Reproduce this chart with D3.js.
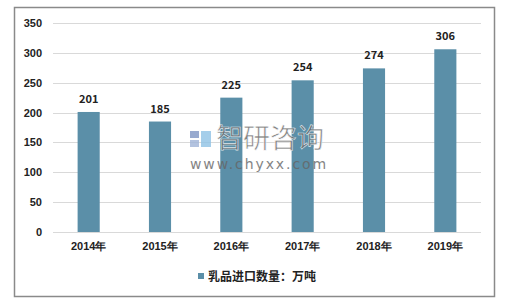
<!DOCTYPE html>
<html>
<head>
<meta charset="utf-8">
<script src="https://cdn.jsdelivr.net/npm/d3@7"></script>
<style>
  body { margin: 0; background: #fff; }
  svg { display: block; font-family: "Noto Sans CJK SC", "Noto Sans", sans-serif; }
</style>
</head>
<body>
<div id="chart-container"></div>
<script>
const years = ["2014年", "2015年", "2016年", "2017年", "2018年", "2019年"];
const imports = [201, 185, 225, 254, 274, 306];
const yTicks = [0, 50, 100, 150, 200, 250, 300, 350];
const seriesName = "乳品进口数量：万吨";

const width = 515;
const height = 304;
const barColor = "#5b8fa8";

const svg = d3.select("#chart-container")
    .append("svg")
    .attr("width", width)
    .attr("height", height);

// outer frame
svg.append("rect")
    .attr("x", 14.5)
    .attr("y", 7.5)
    .attr("width", 480)
    .attr("height", 289)
    .attr("fill", "#fff")
    .attr("stroke", "#8a8a8a")
    .attr("stroke-width", 1.5);

const x = d3.scaleBand()
    .domain(years)
    .range([53, 481])
    .paddingInner(0.69)
    .paddingOuter(0.345);

const y = d3.scaleLinear()
    .domain([0, 350])
    .range([232, 23]);

// gridlines
svg.append("g")
    .selectAll("line")
    .data(yTicks)
    .enter()
    .append("line")
    .attr("x1", 53)
    .attr("x2", 481)
    .attr("y1", d => Math.round(y(d)) + 0.5)
    .attr("y2", d => Math.round(y(d)) + 0.5)
    .attr("stroke", "#d9d9d9")
    .attr("stroke-width", 1);

// y axis labels
const yAxis = svg.append("g")
    .attr("transform", "translate(53,0)")
    .call(d3.axisLeft(y).tickValues(yTicks).tickSize(0).tickPadding(11));
yAxis.select(".domain").remove();
yAxis.selectAll("text")
    .style("font-size", "11px")
    .style("font-weight", "600")
    .attr("fill", "#222");

// bars
svg.append("g")
    .selectAll("rect")
    .data(imports)
    .enter()
    .append("rect")
    .attr("x", (d, i) => x(years[i]))
    .attr("y", d => y(d))
    .attr("width", x.bandwidth())
    .attr("height", d => y(0) - y(d))
    .attr("fill", barColor);

// value labels
svg.append("g")
    .selectAll("text")
    .data(imports)
    .enter()
    .append("text")
    .attr("x", (d, i) => x(years[i]) + x.bandwidth() / 2)
    .attr("y", d => y(d) - 9)
    .attr("text-anchor", "middle")
    .style("font-size", "11px")
    .style("font-weight", "600")
    .attr("fill", "#222")
    .text(d => d);

// x axis labels
const xAxis = svg.append("g")
    .attr("transform", "translate(0,232)")
    .call(d3.axisBottom(x).tickSize(0).tickPadding(10));
xAxis.select(".domain").remove();
xAxis.selectAll("text")
    .style("font-size", "11px")
    .style("font-weight", "600")
    .attr("fill", "#222");

// watermark
const wm = svg.append("g").attr("opacity", 0.8);
wm.append("rect").attr("x", 190).attr("y", 131).attr("width", 9).attr("height", 7).attr("fill", "#7f95c4");
wm.append("rect").attr("x", 190).attr("y", 140).attr("width", 9).attr("height", 7).attr("fill", "#9fb4d8");
wm.append("rect").attr("x", 201).attr("y", 131).attr("width", 10).attr("height", 16).attr("fill", "#8fc3e6");
wm.append("text")
    .attr("x", 216)
    .attr("y", 148)
    .style("font-size", "27px")
    .attr("fill", "#666")
    .attr("stroke", "#fff")
    .attr("stroke-width", 0.6)
    .text("智研咨询");
wm.append("text")
    .attr("x", 190)
    .attr("y", 169)
    .style("font-size", "14px")
    .style("font-family", "DejaVu Sans, sans-serif")
    .style("letter-spacing", "1.9px")
    .attr("fill", "#666")
    .text("www.chyxx.com");

// legend
svg.append("rect")
    .attr("x", 198)
    .attr("y", 273)
    .attr("width", 6)
    .attr("height", 6)
    .attr("fill", barColor);
svg.append("text")
    .attr("x", 208)
    .attr("y", 280.5)
    .style("font-size", "12px")
    .style("font-weight", "bold")
    .attr("fill", "#222")
    .text(seriesName);
</script>
</body>
</html>
